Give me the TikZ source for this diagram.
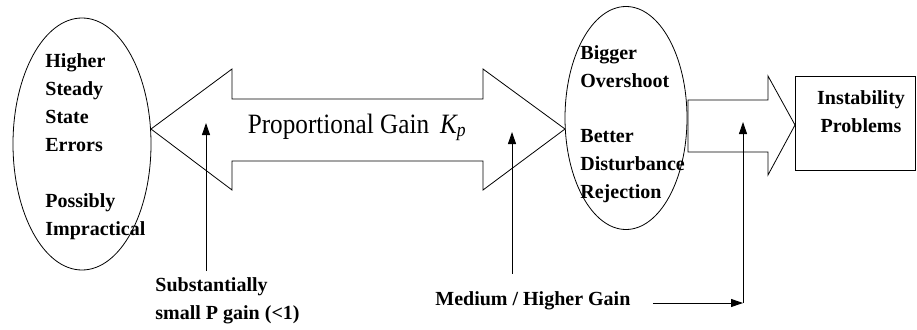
\documentclass[tikz,border=0pt]{standalone}
\usepackage{fontspec}
\setmainfont{Liberation Serif}
\newfontfamily\gainfont{Liberation Serif}[FakeStretch=0.9]
\usetikzlibrary{shapes.geometric,arrows.meta}
\begin{document}
\begin{tikzpicture}[x=1pt,y=-1pt,line width=.8pt,font=\bfseries\fontsize{20}{28}\selectfont,
  oval/.style={draw,ellipse,inner sep=0pt},
  txt/.style={align=left,inner sep=0pt,anchor=north west},
  tip/.style={-{Triangle[length=12pt,width=8pt]},line width=.9pt}]
\useasboundingbox (0,0) rectangle (917,329);
\node[oval,minimum width=138pt,minimum height=252pt] (low) at (82,144) {};
\node[oval,minimum width=122pt,minimum height=223pt] (high) at (626,118) {};
\draw (151,129)--(232,69)--(232,99)--(483,99)--(483,69)--(565,129)--(483,190)--(483,161)--(232,161)--(232,190)--cycle;
\draw (688,100)--(768,100)--(768,76)--(795,125)--(768,175)--(768,152)--(688,152)--cycle;
\node[draw,minimum width=120pt,minimum height=94pt,inner sep=0pt] (inst) at (855,123) {};
\node[align=center,inner sep=0pt,anchor=north] (insttxt) at (861,90) {Instability\\Problems};
\node[txt] (lowtxt) at (45,53) {Higher\\Steady\\State\\Errors\\[28pt]Possibly\\Impractical};
\node[txt] (hightxt) at (580,45) {Bigger\\Overshoot\\[27pt]Better\\Disturbance\\Rejection};
\node[anchor=base,inner sep=0pt,font=\gainfont\fontsize{28}{30}\selectfont] (gain) at (357,133) {Proportional Gain\ \,{\itshape K\textsubscript{p}}};
\node[txt] (small) at (155,277) {Substantially\\small P gain (<1)};
\node[anchor=base west,inner sep=0pt] (medium) at (435,305) {Medium / Higher Gain};
\coordinate (lowtip) at (206,123);
\coordinate (midtip) at (512,132);
\coordinate (insttip) at (743,122);
\coordinate (instfoot) at (743,303);
\draw[tip] ([yshift=6pt]small.north -| lowtip) -- (lowtip);
\draw[tip] ([yshift=17pt]medium.north -| midtip) -- (midtip);
\draw[tip] ([xshift=22pt]medium.east |- instfoot) -- (instfoot);
\draw[tip] (instfoot) -- (insttip);
\end{tikzpicture}
\end{document}
